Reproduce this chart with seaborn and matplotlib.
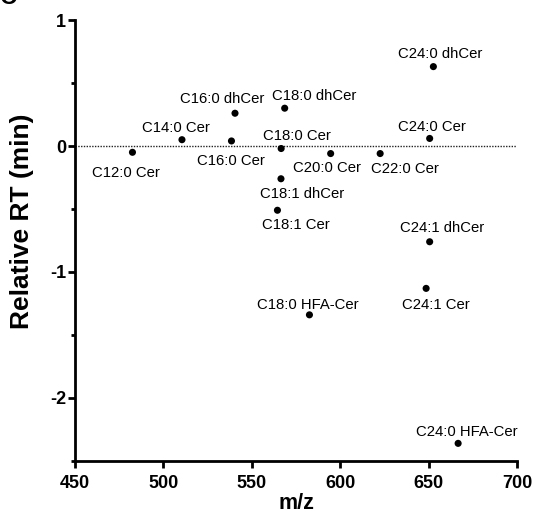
import matplotlib
matplotlib.use("Agg")
import matplotlib.pyplot as plt
import seaborn as sns
import pandas as pd
from matplotlib.ticker import MultipleLocator

# Ceramide species: m/z of [M+H]+ and retention time relative to reference
species = ["C12:0 Cer", "C14:0 Cer", "C16:0 dhCer", "C16:0 Cer",
           "C18:0 dhCer", "C18:0 Cer", "C18:1 dhCer", "C18:1 Cer",
           "C20:0 Cer", "C22:0 Cer", "C24:0 dhCer", "C24:0 Cer",
           "C24:1 dhCer", "C24:1 Cer", "C18:0 HFA-Cer", "C24:0 HFA-Cer"]
mz = [482.5, 510.5, 540.5, 538.5,
      568.6, 566.6, 566.5, 564.5,
      594.6, 622.6, 652.7, 650.6,
      650.6, 648.6, 582.6, 666.7]
rel_rt = [-0.05, 0.05, 0.26, 0.04,
          0.30, -0.02, -0.26, -0.51,
          -0.06, -0.06, 0.63, 0.06,
          -0.76, -1.13, -1.34, -2.36]

x_ticks = [450, 500, 550, 600, 650, 700]
y_ticks = [-2, -1, 0, 1]

# label placement relative to each point (pixels: right, down)
label_shift = [(-6.6, 19), (-5.7, -13.3), (-13.3, -15.3), (-1, 18.8),
               (30, -13.3), (16, -14), (21.5, 13.5), (18, 13.3),
               (-3.6, 12.7), (24.7, 13.7), (6.6, -14.2), (2.5, -13.3),
               (12.5, -14.8), (9.8, 14.7), (-1.2, -11.7), (8.2, -12.5)]

df = pd.DataFrame({"species": species, "mz": mz, "rt": rel_rt})

sns.set_theme(style="ticks")
plt.rcParams["font.family"] = ["Liberation Sans", "DejaVu Sans"]
plt.rcParams["axes.unicode_minus"] = False
plt.rcParams["text.color"] = "black"
plt.rcParams["axes.labelcolor"] = "black"
plt.rcParams["xtick.color"] = "black"
plt.rcParams["ytick.color"] = "black"

W, H, DPI = 538, 521, 100
fig = plt.figure(figsize=(W / DPI, H / DPI), dpi=DPI)
ax = fig.add_axes([75 / W, 1 - 461 / H, 442 / W, 441 / H])

ax.axhline(0, color="#222222", lw=1.0, ls=(0, (1, 1)), zorder=1)
sns.scatterplot(data=df, x="mz", y="rt", ax=ax, color="black", s=26,
                edgecolor="none", zorder=3, legend=False)

px = 0.72  # points per pixel at 100 dpi
for name, x, y, (dx, dy) in zip(species, mz, rel_rt, label_shift):
    ax.annotate(name, (x, y), xytext=(dx * px, -(dy + 5.5) * px),
                textcoords="offset points", ha="center", va="baseline",
                fontsize=10.7, color="black")

ax.set_xlim(450, 700)
ax.set_ylim(-2.5, 1)
ax.set_xticks(x_ticks)
ax.set_yticks(y_ticks)
ax.yaxis.set_minor_locator(MultipleLocator(0.5))

for side in ["top", "right"]:
    ax.spines[side].set_visible(False)
for side in ["left", "bottom"]:
    ax.spines[side].set_linewidth(2.0)
    ax.spines[side].set_color("black")

ax.tick_params(axis="both", which="major", length=5, width=2.0,
               color="black", labelsize=13, labelcolor="black")
ax.tick_params(axis="x", which="major", pad=5)
ax.tick_params(axis="y", which="major", pad=1.5)
ax.tick_params(axis="y", which="minor", length=3, width=2.0, color="black")
for lab in ax.get_xticklabels() + ax.get_yticklabels():
    lab.set_fontweight("bold")

ax.set_xlabel("m/z", fontsize=15.5, fontweight="bold", color="black")
ax.set_ylabel("Relative RT (min)", fontsize=19, fontweight="bold",
              color="black")
ax.xaxis.set_label_coords(0.5, -0.072)
ax.yaxis.set_label_coords(-0.093, 0.544)

fig.text(0.0, 1 - 4 / H, "C", fontsize=17, fontweight="bold",
         ha="left", va="baseline")

fig.savefig("out.png", dpi=DPI)
